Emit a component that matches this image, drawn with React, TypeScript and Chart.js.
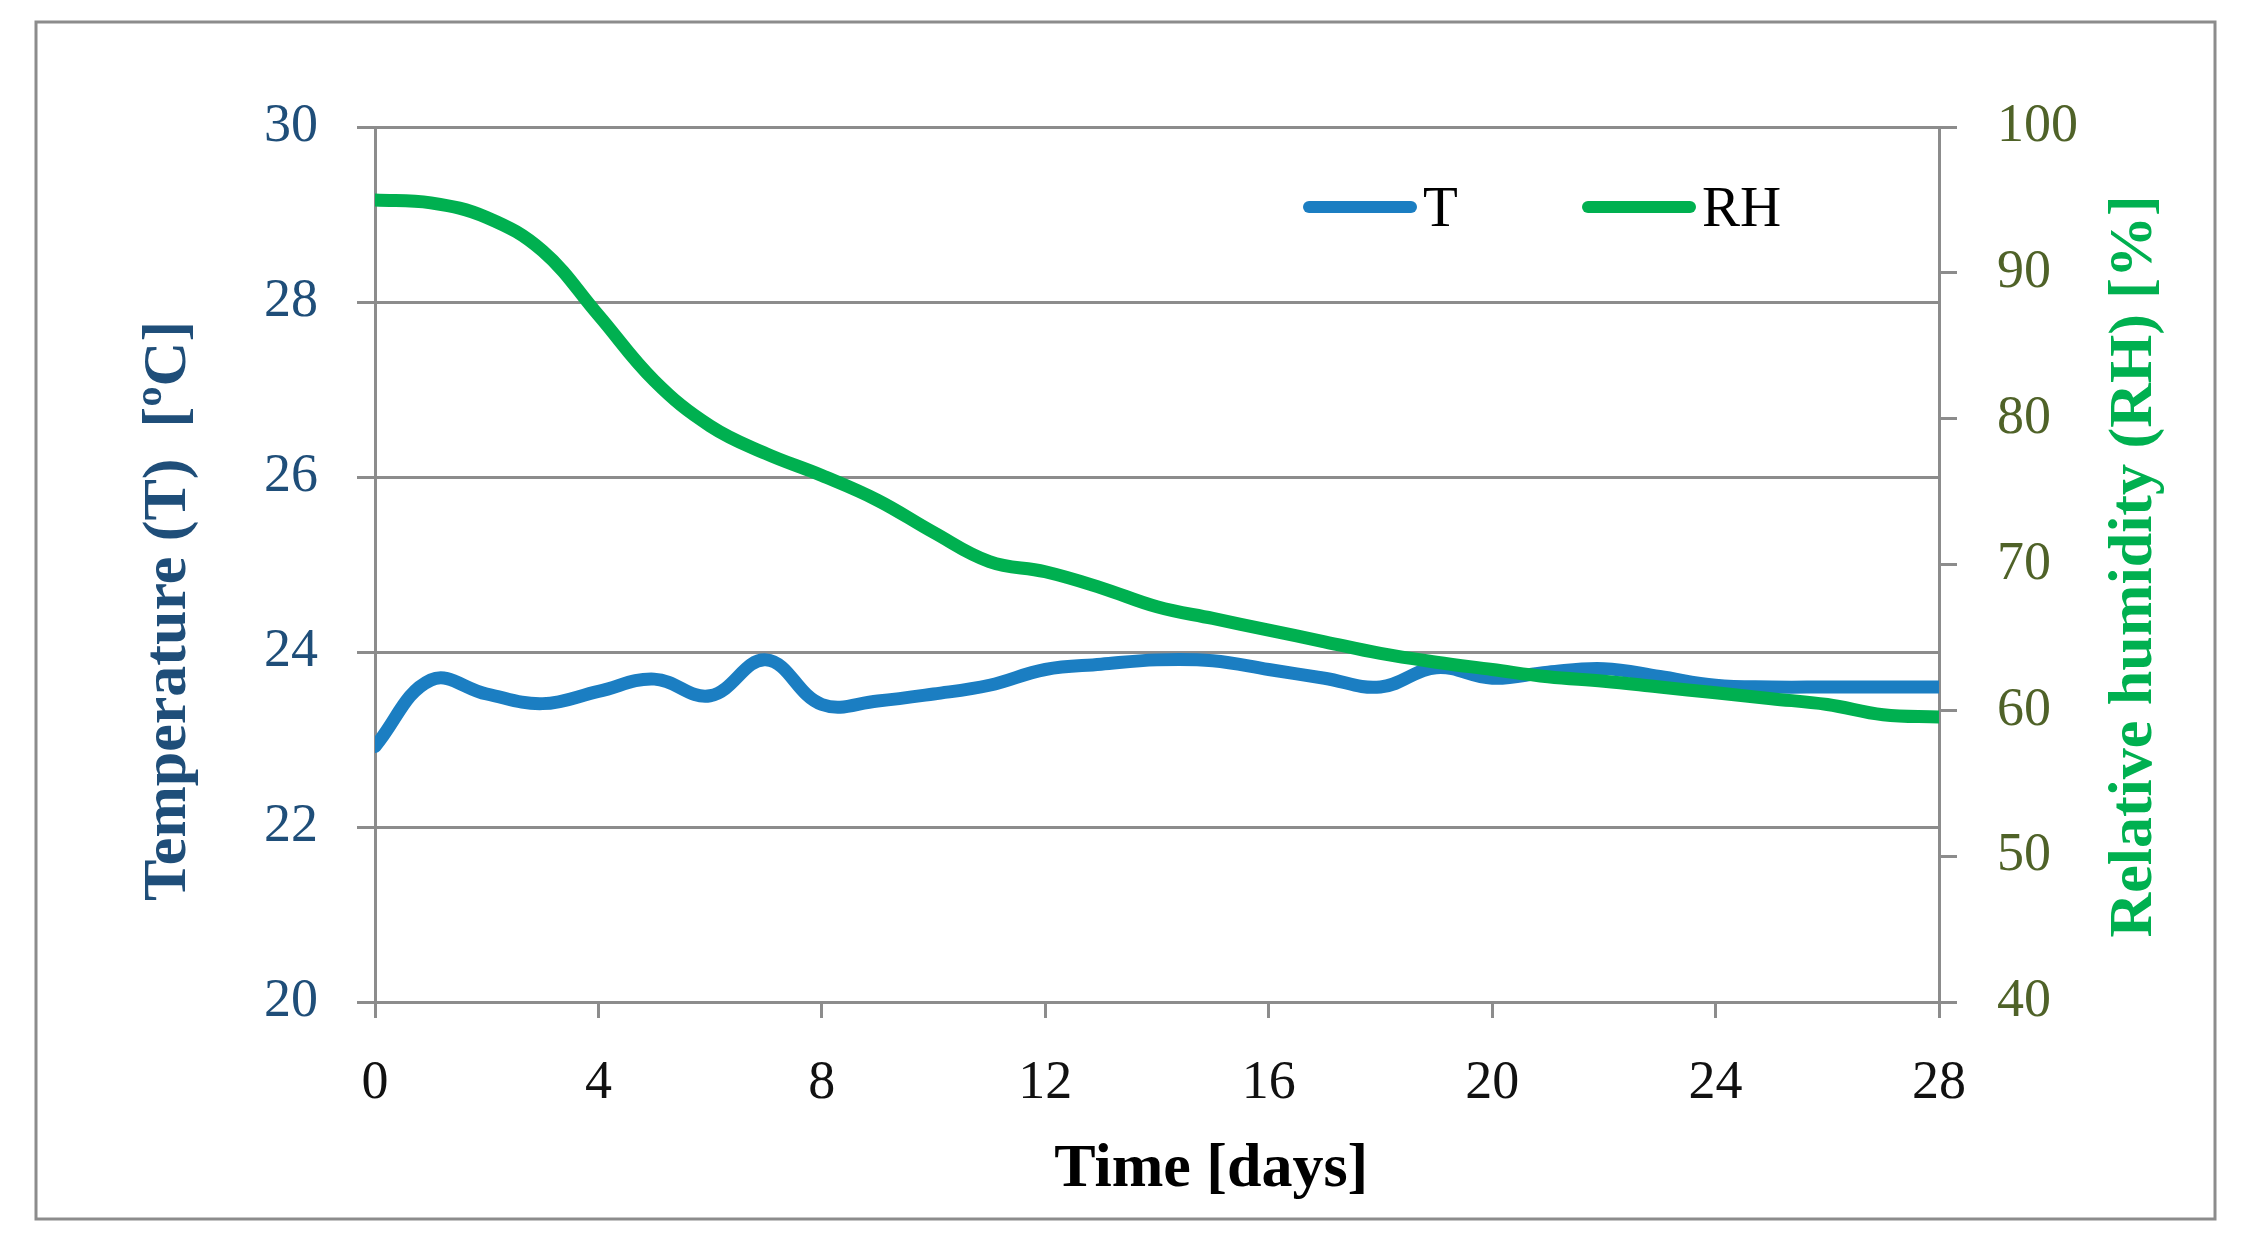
import React, { useEffect, useRef } from 'react';
import { Chart, registerables } from 'chart.js';

Chart.register(...registerables);

// ---- data ----
const days = [0, 1, 2, 3, 4, 5, 6, 7, 8, 9, 10, 11, 12, 13, 14, 15, 16, 17, 18, 19, 20, 21, 22, 23, 24, 25, 26, 27, 28];
const temperature = [22.92, 23.68, 23.52, 23.41, 23.55, 23.69, 23.5, 23.91, 23.4, 23.44, 23.52, 23.62, 23.8, 23.86, 23.91, 23.9, 23.8, 23.7, 23.6, 23.82, 23.7, 23.77, 23.81, 23.72, 23.62, 23.6, 23.6, 23.6, 23.6];
const humidity = [95.0, 94.8, 93.8, 91.5, 87.1, 82.6, 79.5, 77.6, 76.1, 74.4, 72.2, 70.2, 69.5, 68.4, 67.1, 66.3, 65.5, 64.7, 63.9, 63.3, 62.8, 62.3, 62.0, 61.6, 61.2, 60.8, 60.4, 59.7, 59.55];
const seriesLabels = ['T', 'RH'];
const xTitle = 'Time [days]';
const yLeftTitle = 'Temperature (T)  [ºC]';
const yRightTitle = 'Relative humidity (RH) [%]';

const FONT = "'Liberation Serif', 'Times New Roman', serif";
const GRID = '#8c8c8c';
const BLUE = '#1b7ec2';
const GREEN = '#00b050';
const DARKBLUE = '#1f4e79';
const OLIVE = '#4f6228';

const framePlugin = {
  id: 'frame',
  beforeDraw(chart: any) {
    const { ctx, width, height } = chart;
    ctx.save();
    ctx.fillStyle = '#ffffff';
    ctx.fillRect(0, 0, width, height);
    ctx.strokeStyle = GRID;
    ctx.lineWidth = 3;
    ctx.strokeRect(36, 22, 2179, 1197);
    ctx.restore();
  },
};

const legendPlugin = {
  id: 'insideLegend',
  afterDraw(chart: any) {
    const { ctx } = chart;
    const starts = [1303, 1582];
    chart.data.datasets.forEach((ds: any, i: number) => {
      const x0 = starts[i];
      const y = 207;
      ctx.save();
      ctx.strokeStyle = ds.borderColor;
      ctx.lineWidth = 12;
      ctx.lineCap = 'round';
      ctx.beginPath();
      ctx.moveTo(x0 + 6, y);
      ctx.lineTo(x0 + 108, y);
      ctx.stroke();
      ctx.fillStyle = '#000000';
      ctx.font = `57px ${FONT}`;
      ctx.textBaseline = 'alphabetic';
      ctx.textAlign = 'left';
      ctx.fillText(ds.label, x0 + 120, 226);
      ctx.restore();
    });
  },
};

const rightTitlePlugin = {
  id: 'rightTitle',
  afterDraw(chart: any) {
    const s = chart.scales.y1;
    const { ctx } = chart;
    ctx.save();
    ctx.translate(s.right - 37, (s.top + s.bottom) / 2 + 2);
    ctx.rotate(-Math.PI / 2);
    ctx.fillStyle = GREEN;
    ctx.font = `bold 62px ${FONT}`;
    ctx.textAlign = 'center';
    ctx.textBaseline = 'middle';
    ctx.fillText(yRightTitle, 0, 0);
    ctx.restore();
  },
};

export default function App() {
  const canvasRef = useRef<HTMLCanvasElement | null>(null);

  useEffect(() => {
    document.body.style.margin = '0';
    const canvas = canvasRef.current;
    if (!canvas) return;
    const chart = new Chart(canvas, {
      type: 'line',
      data: {
        datasets: [
          {
            label: seriesLabels[0],
            data: days.map((d, i) => ({ x: d, y: temperature[i] })),
            borderColor: BLUE,
            backgroundColor: BLUE,
            borderWidth: 13,
            pointRadius: 0,
            tension: 0.4,
            borderCapStyle: 'round',
            borderJoinStyle: 'round',
            yAxisID: 'y',
            order: 2,
          },
          {
            label: seriesLabels[1],
            data: days.map((d, i) => ({ x: d, y: humidity[i] })),
            borderColor: GREEN,
            backgroundColor: GREEN,
            borderWidth: 13,
            pointRadius: 0,
            tension: 0.4,
            borderCapStyle: 'round',
            borderJoinStyle: 'round',
            yAxisID: 'y1',
            order: 1,
          },
        ],
      },
      options: {
        responsive: false,
        animation: false,
        devicePixelRatio: 1,
        layout: { padding: { left: 132, right: 70, top: 127, bottom: 32 } },
        plugins: {
          legend: { display: false },
          tooltip: { enabled: false },
        },
        scales: {
          x: {
            type: 'linear',
            min: 0,
            max: 28,
            afterFit: (s: any) => { s.height = 205; },
            ticks: {
              stepSize: 4,
              color: '#111111',
              font: { family: FONT, size: 54 },
              padding: 33,
              maxRotation: 0,
              autoSkip: false,
            },
            grid: { drawOnChartArea: false, drawTicks: true, tickLength: 16, color: GRID, lineWidth: 3 },
            border: { display: true, color: GRID, width: 3 },
            title: {
              display: true,
              text: '       ' + xTitle,
              color: '#000000',
              font: { family: FONT, size: 62, weight: 'bold' },
              padding: { top: 0, bottom: 0 },
            },
          },
          y: {
            type: 'linear',
            position: 'left',
            min: 20,
            max: 30,
            afterFit: (s: any) => { s.width = 243; },
            ticks: {
              stepSize: 2,
              color: DARKBLUE,
              font: { family: FONT, size: 54 },
              padding: 39,
            },
            grid: { drawOnChartArea: true, drawTicks: true, tickLength: 18, color: GRID, lineWidth: 3 },
            border: { display: true, color: GRID, width: 3 },
            title: {
              display: true,
              text: yLeftTitle + '      ',
              color: DARKBLUE,
              font: { family: FONT, size: 62, weight: 'bold' },
              padding: { top: 0, bottom: 0 },
            },
          },
          y1: {
            type: 'linear',
            position: 'right',
            min: 40,
            max: 100,
            afterFit: (s: any) => { s.width = 233; },
            ticks: {
              stepSize: 10,
              color: OLIVE,
              font: { family: FONT, size: 54 },
              padding: 40,
            },
            grid: { drawOnChartArea: false, drawTicks: true, tickLength: 18, color: GRID, lineWidth: 3 },
            border: { display: true, color: GRID, width: 3 },
            title: { display: false, text: yRightTitle },
          },
        },
      },
      plugins: [framePlugin, legendPlugin, rightTitlePlugin],
    } as any);
    return () => chart.destroy();
  }, []);

  return (
    <div style={{ width: 2242, height: 1239 }}>
      <canvas ref={canvasRef} width={2242} height={1239} style={{ display: 'block', width: 2242, height: 1239 }} />
    </div>
  );
}
